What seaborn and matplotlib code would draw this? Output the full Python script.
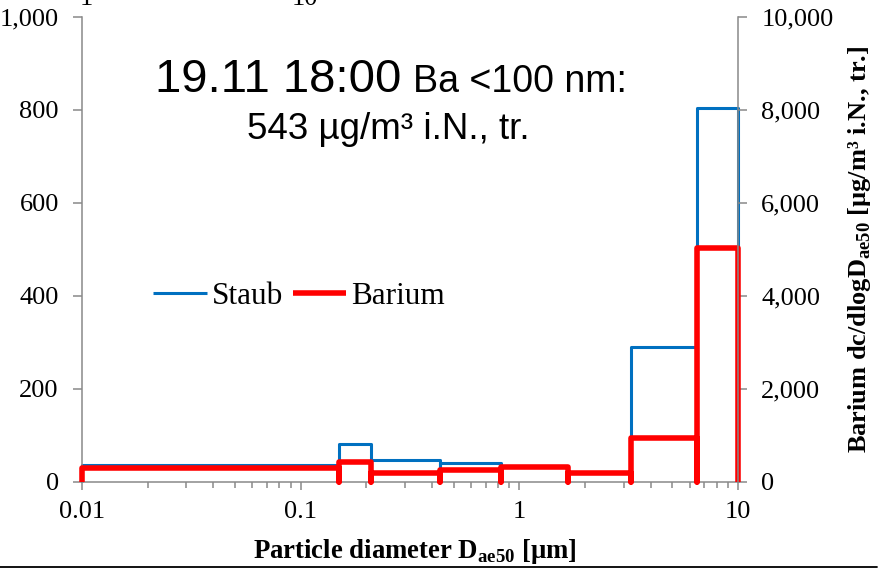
import numpy as np
import pandas as pd
import matplotlib
matplotlib.use("Agg")
import matplotlib.pyplot as plt
from matplotlib.lines import Line2D
from matplotlib.ticker import FuncFormatter, LogLocator, NullFormatter
import seaborn as sns

# Impactor stage boundaries (aerodynamic cut diameters, µm)
stage_edges = [0.01, 0.15, 0.21, 0.435, 0.82, 1.67, 3.24, 6.47, 10.0]
# Dust concentration per stage (left axis)
staub = [36, 82, 46, 39.5, 31, 18, 290, 803]
# Barium dc/dlogD per stage (right axis)
barium = [295, 430, 180, 250, 310, 180, 933, 5032]

left_ticks = [0, 200, 400, 600, 800, 1000]
right_ticks = [0, 2000, 4000, 6000, 8000, 10000]
x_ticks = [0.01, 0.1, 1, 10]
x_tick_labels = ["0.01", "0.1", "1", "10"]
series_labels = ["Staub", "Barium"]


def step_outline(edges, values):
    """Outline of each stage as a box: up at the lower edge, across, down."""
    xs, ys = [], []
    for lo, hi, v in zip(edges[:-1], edges[1:], values):
        xs += [lo, lo, hi, hi]
        ys += [0, v, v, 0]
    return pd.DataFrame({"d": xs, "c": ys})


sns.set_style("ticks")
plt.rcParams["font.family"] = ["Liberation Serif", "DejaVu Serif"]
plt.rcParams["mathtext.fontset"] = "custom"
plt.rcParams["mathtext.rm"] = "Liberation Serif"
plt.rcParams["mathtext.bf"] = "Liberation Serif:bold"
plt.rcParams["text.color"] = "black"
plt.rcParams["axes.labelcolor"] = "black"
plt.rcParams["xtick.labelcolor"] = "black"
plt.rcParams["ytick.labelcolor"] = "black"

GREY = "#898989"
BLUE = "#0070C0"
RED = "#FF0000"

W, H = 887, 569
fig = plt.figure(figsize=(W / 100, H / 100), dpi=100)
x0, x1, y_top, y_bot = 81.7, 738.3, 16.7, 481.7
ax = fig.add_axes([x0 / W, 1 - y_bot / H, (x1 - x0) / W, (y_bot - y_top) / H])
ax2 = ax.twinx()

sns.lineplot(data=step_outline(stage_edges, staub), x="d", y="c", sort=False,
             estimator=None, ax=ax, color=BLUE, linewidth=2.2,
             solid_joinstyle="round", solid_capstyle="butt", clip_on=False)
sns.lineplot(data=step_outline(stage_edges, barium), x="d", y="c", sort=False,
             estimator=None, ax=ax2, color=RED, linewidth=4.0,
             solid_joinstyle="round", solid_capstyle="butt", clip_on=False)

ax.set_xscale("log")
ax.set_xlim(0.01, 10)
ax.set_ylim(0, 1000)
ax2.set_ylim(0, 10000)
for a in (ax, ax2):
    a.set_xlabel("")
    a.set_ylabel("")

ax.set_xticks(x_ticks, labels=x_tick_labels)
ax.xaxis.set_minor_locator(LogLocator(base=10, subs=np.arange(2, 10)))
ax.xaxis.set_minor_formatter(NullFormatter())
ax.set_yticks(left_ticks)
ax2.set_yticks(right_ticks)
comma = FuncFormatter(lambda v, p: f"{v:,.0f}")
ax.yaxis.set_major_formatter(comma)
ax2.yaxis.set_major_formatter(comma)

for a in (ax, ax2):
    for s in a.spines.values():
        s.set_color(GREY)
        s.set_linewidth(1.1)
    a.spines["top"].set_visible(False)
ax.spines["right"].set_visible(False)
ax2.spines["left"].set_visible(False)
ax2.spines["bottom"].set_visible(False)

ax.tick_params(axis="x", which="major", direction="out", length=6, width=1.1,
               color=GREY, labelsize=19, pad=8, labelcolor="black")
ax.tick_params(axis="x", which="minor", direction="out", length=4, width=1.1,
               color=GREY)
ax.tick_params(axis="y", which="major", direction="out", length=6.5, width=1.1,
               color=GREY, labelsize=19, pad=10, labelcolor="black")
ax2.tick_params(axis="y", which="major", direction="out", length=6.5, width=1.1,
                color=GREY, labelsize=19, pad=10, labelcolor="black")

handles = [ax.lines[0], ax2.lines[0]]
ax2.legend(handles, series_labels, loc="center left",
           bbox_to_anchor=(153 / W, 1 - 296 / H), bbox_transform=fig.transFigure,
           ncol=2, frameon=False, fontsize=22.5, handlelength=1.72,
           handletextpad=0.15, columnspacing=0.32, borderpad=0, borderaxespad=0,
           labelcolor="black")

# annotation block
sans = ["Liberation Sans", "DejaVu Sans"]
fig.text(401 / W, 1 - 92 / H, "19.11 18:00", ha="right", va="baseline",
         fontsize=34, family=sans, color="black")
fig.text(413 / W, 1 - 92 / H, "Ba <100 nm:", ha="left", va="baseline",
         fontsize=27, family=sans, color="black")
fig.text(388 / W, 1 - 139 / H, "543 µg/m³ i.N., tr.", ha="center",
         va="baseline", fontsize=26.5, family=sans, color="black")

# axis titles
fig.text(415 / W, 1 - 558 / H, r"Particle diameter D$_{\mathbf{ae50}}$ [µm]",
         ha="center", va="baseline", fontsize=19.3, fontweight="bold")
fig.text(860 / W, 1 - 249 / H,
         r"Barium dc/dlogD$_{\mathbf{ae50}}$ [µg/m³ i.N., tr.]",
         rotation=90, ha="center", va="center", fontsize=19, fontweight="bold")

# tick labels of the panel above, cut at the page edge
fig.text(86 / W, 1 - 5 / H, "1", ha="center", va="baseline", fontsize=19)
fig.text(305 / W, 1 - 5 / H, "10", ha="center", va="baseline", fontsize=19)

# page rule under the chart
fig.add_artist(Line2D([0, 877 / W], [1 - 567 / H] * 2, transform=fig.transFigure,
                      color="black", linewidth=1.3))

fig.savefig("out.png", dpi=100)
